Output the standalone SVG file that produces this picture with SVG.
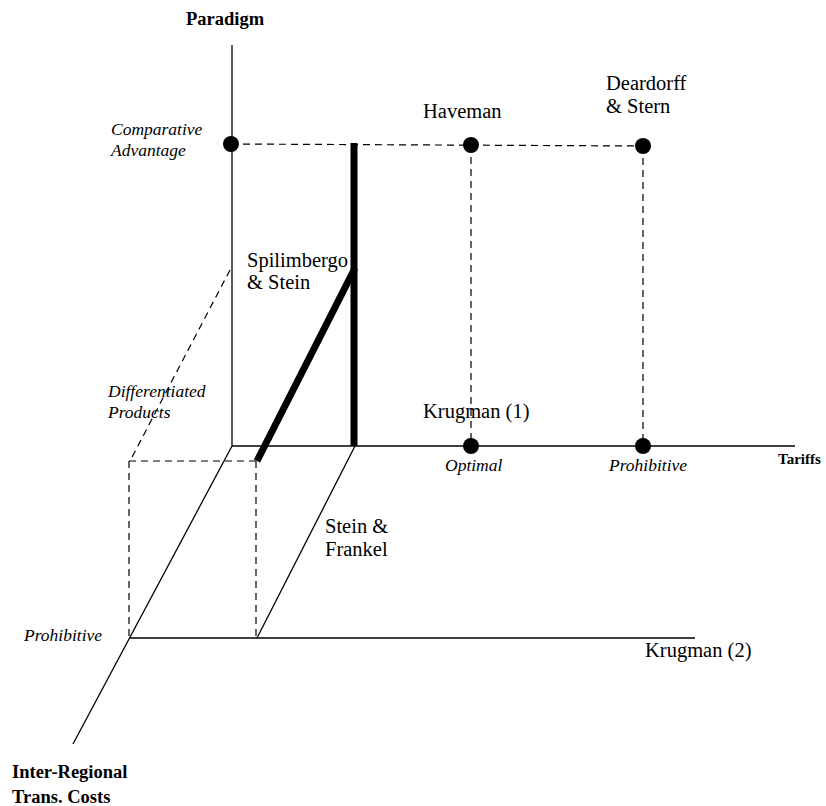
<svg xmlns="http://www.w3.org/2000/svg" width="826" height="806" viewBox="0 0 826 806">
<style>
.ax{stroke:#000;stroke-width:1.3;fill:none}
.da{stroke:#000;stroke-width:1.2;fill:none;stroke-dasharray:7 5}
.th{stroke:#000;stroke-width:7;fill:none;stroke-linecap:butt}
.dot{fill:#000}
.t{font-family:"Liberation Serif","Times New Roman",serif;font-size:20.5px;fill:#000}
.i{font-family:"Liberation Serif","Times New Roman",serif;font-size:17.5px;font-style:italic;fill:#000}
.b{font-family:"Liberation Serif","Times New Roman",serif;font-size:18.5px;font-weight:bold;fill:#000}
</style>
<rect width="826" height="806" fill="#fff"/>
<g id="connectors">
<line class="ax" x1="232" y1="45" x2="232" y2="446"/>
<line class="ax" x1="232" y1="446" x2="795" y2="446"/>
<line class="ax" x1="232" y1="446" x2="73" y2="744"/>
<line class="ax" x1="355" y1="446" x2="257" y2="638"/>
<line class="ax" x1="130" y1="638" x2="695" y2="638"/>
<line class="da" x1="231" y1="144" x2="643" y2="146"/>
<line class="da" x1="471" y1="145" x2="471" y2="446"/>
<line class="da" x1="643" y1="146" x2="643" y2="446"/>
<line class="da" x1="230" y1="270" x2="130" y2="461"/>
<line class="da" x1="129" y1="461" x2="257" y2="461"/>
<line class="da" x1="129" y1="461" x2="129" y2="638"/>
<line class="da" x1="256" y1="461" x2="256" y2="638"/>
<line class="th" x1="354" y1="143" x2="354" y2="446"/>
<line class="th" x1="355" y1="268" x2="257" y2="461"/>
</g>
<g id="axis-paradigm"><text class="b" x="186" y="25">Paradigm</text></g>
<g id="axis-tariffs"><text class="b" x="778" y="464" style="font-size:15px">Tariffs</text></g>
<g id="axis-transport"><text class="b" x="12" y="778">Inter-Regional</text><text class="b" x="12" y="803">Trans. Costs</text></g>
<g id="comparative-advantage"><circle class="dot" cx="231" cy="144" r="8"/><text class="i" x="111" y="135">Comparative</text><text class="i" x="111" y="156">Advantage</text></g>
<g id="differentiated-products"><text class="i" x="108" y="397">Differentiated</text><text class="i" x="108" y="418">Products</text></g>
<g id="haveman"><circle class="dot" cx="471" cy="145" r="8"/><text class="t" x="423" y="118">Haveman</text></g>
<g id="deardorff-stern"><circle class="dot" cx="643" cy="146" r="8"/><text class="t" x="606" y="90">Deardorff</text><text class="t" x="606" y="113">&amp; Stern</text></g>
<g id="spilimbergo-stein"><text class="t" x="247" y="267">Spilimbergo</text><text class="t" x="247" y="289">&amp; Stein</text></g>
<g id="krugman1"><circle class="dot" cx="471" cy="446" r="8"/><text class="t" x="423" y="418">Krugman (1)</text><text class="i" x="445" y="471">Optimal</text></g>
<g id="prohibitive-tariff"><circle class="dot" cx="643" cy="446" r="8"/><text class="i" x="609" y="471">Prohibitive</text></g>
<g id="stein-frankel"><text class="t" x="325" y="533">Stein &amp;</text><text class="t" x="325" y="556">Frankel</text></g>
<g id="prohibitive-transport"><text class="i" x="24" y="641">Prohibitive</text></g>
<g id="krugman2"><text class="t" x="645" y="657">Krugman (2)</text></g>
</svg>
